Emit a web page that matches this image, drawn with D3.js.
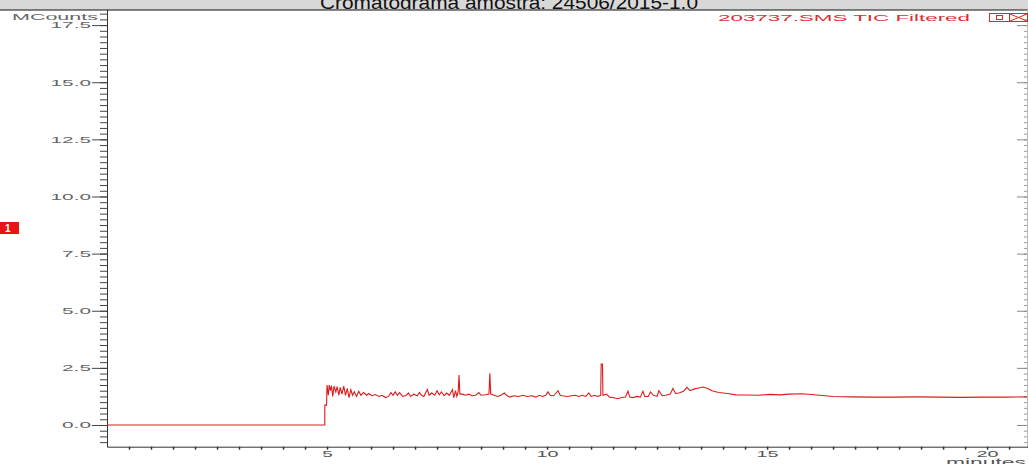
<!DOCTYPE html>
<html>
<head>
<meta charset="utf-8">
<script src="https://cdn.jsdelivr.net/npm/d3@7"></script>
<style>
  body { margin: 0; background: #fff; }
  svg text { font-family: "Liberation Sans", Arial, sans-serif; }
</style>
</head>
<body>
<svg id="canvas" width="1028" height="464"></svg>
<script>
var title = "Cromatograma amostra: 24506/2015-1.0";
var traceName = "203737.SMS TIC Filtered";
var yLabel = "MCounts";
var xLabel = "minutes";
var yMajor = [0, 2.5, 5, 7.5, 10, 12.5, 15, 17.5];
var xMajor = [5, 10, 15, 20];

// retention time (minutes)
var times = [0, 4.95, 4.95, 4.99, 5.0, 5.03, 5.05, 5.08, 5.1, 5.13, 5.16, 5.2, 5.23, 5.27, 5.3, 5.34, 5.38, 5.42, 5.46, 5.5,
	5.54, 5.58, 5.62, 5.67, 5.72, 5.77, 5.83, 5.9, 5.95, 6.02, 6.1, 6.18, 6.25, 6.33, 6.4, 6.45, 6.5, 6.55, 6.6, 6.65,
	6.72, 6.8, 6.85, 6.9, 6.97, 7.05, 7.1, 7.15, 7.2, 7.28, 7.32, 7.38, 7.45, 7.5, 7.55, 7.6, 7.66, 7.72, 7.78, 7.85,
	7.88, 7.92, 7.95, 7.98, 8.0, 8.02, 8.08, 8.15, 8.22, 8.3, 8.38, 8.45, 8.5, 8.6, 8.68, 8.7, 8.72, 8.8, 8.88, 8.95,
	9.03, 9.08, 9.15, 9.25, 9.35, 9.45, 9.55, 9.65, 9.75, 9.82, 9.9, 9.97, 10.02, 10.07, 10.15, 10.25, 10.3, 10.35, 10.45, 10.55,
	10.65, 10.72, 10.8, 10.88, 10.95, 11.0, 11.08, 11.15, 11.22, 11.23, 11.26, 11.27, 11.35, 11.42, 11.5, 11.6, 11.7, 11.78, 11.84, 11.88,
	11.95, 12.05, 12.12, 12.18, 12.22, 12.3, 12.35, 12.42, 12.5, 12.54, 12.62, 12.7, 12.8, 12.86, 12.92, 13.0, 13.1, 13.18, 13.25, 13.35,
	13.45, 13.55, 13.65, 13.75, 13.9, 14.1, 14.3, 14.55, 14.8, 15.07, 15.3, 15.5, 15.8, 16.2, 16.5, 16.9, 17.4, 17.9, 18.4, 18.9,
	19.4, 19.9, 20.4, 20.93];
// intensity (MCounts)
var counts = [0, 0, 0.87, 0.87, 1.75, 1.3, 1.75, 1.5, 1.72, 1.25, 1.7, 1.45, 1.68, 1.3, 1.65, 1.35, 1.7, 1.3, 1.6, 1.2,
	1.55, 1.3, 1.45, 1.25, 1.48, 1.3, 1.42, 1.3, 1.38, 1.28, 1.33, 1.25, 1.3, 1.2, 1.25, 1.42, 1.3, 1.45, 1.3, 1.42,
	1.25, 1.3, 1.4, 1.25, 1.35, 1.28, 1.42, 1.3, 1.25, 1.55, 1.3, 1.4, 1.3, 1.5, 1.32, 1.45, 1.28, 1.4, 1.3, 1.55,
	1.2, 1.5, 1.25, 1.45, 2.19, 1.35, 1.35, 1.3, 1.35, 1.28, 1.3, 1.42, 1.3, 1.32, 1.35, 2.26, 1.35, 1.3, 1.25, 1.3,
	1.4, 1.3, 1.22, 1.28, 1.25, 1.3, 1.25, 1.28, 1.22, 1.3, 1.25, 1.3, 1.45, 1.3, 1.28, 1.5, 1.3, 1.28, 1.25, 1.28,
	1.3, 1.25, 1.3, 1.25, 1.4, 1.25, 1.3, 1.25, 1.3, 2.67, 2.67, 1.3, 1.35, 1.22, 1.2, 1.15, 1.2, 1.22, 1.48, 1.22,
	1.2, 1.25, 1.22, 1.48, 1.25, 1.25, 1.45, 1.3, 1.25, 1.5, 1.28, 1.3, 1.35, 1.6, 1.38, 1.4, 1.48, 1.65, 1.5, 1.58,
	1.62, 1.66, 1.6, 1.5, 1.42, 1.38, 1.32, 1.31, 1.3, 1.34, 1.32, 1.35, 1.37, 1.3, 1.25, 1.23, 1.22, 1.22, 1.23, 1.22,
	1.21, 1.22, 1.22, 1.23];

var svg = d3.select("#canvas");

var x = d3.scaleLinear().domain([0, 20.93]).range([107, 1028]);
var y = d3.scaleLinear().domain([-0.95, 18.2]).range([446.7, 9.1]);

// header band
svg.append("rect").attr("x", 0).attr("y", 0).attr("width", 1028).attr("height", 10).attr("fill", "#d8d8d8");
svg.append("clipPath").attr("id", "hdr").append("rect").attr("x", 0).attr("y", 0).attr("width", 1028).attr("height", 9.5);
svg.append("text")
	.attr("clip-path", "url(#hdr)")
	.attr("x", 320).attr("y", 8.5)
	.attr("textLength", 378).attr("lengthAdjust", "spacingAndGlyphs")
	.attr("font-size", 18).attr("fill", "#111")
	.text(title);
svg.append("line").attr("x1", 0).attr("x2", 1028).attr("y1", 10).attr("y2", 10).attr("stroke", "#111");

function labelLength(s) {
	var n = 0;
	for (var c of s) n += (c == ".") ? 7 : 11.5;
	return n - 1;
}

// left axis, minor then major
svg.append("g").attr("transform", "translate(107,0)")
	.call(d3.axisLeft(y).tickValues(d3.range(-0.75, 18.1, 0.25)).tickSize(7).tickSizeOuter(0).tickFormat(""))
	.call(g => g.selectAll("line").attr("stroke", "#444"))
	.call(g => g.select(".domain").attr("stroke", "#333"));

svg.append("g").attr("transform", "translate(107,0)")
	.call(d3.axisLeft(y).tickValues(yMajor).tickSize(15).tickPadding(1).tickSizeOuter(0).tickFormat(d3.format(".1f")))
	.call(g => g.select(".domain").remove())
	.call(g => g.selectAll("line").attr("stroke", "#444"))
	.call(g => g.selectAll("text")
		.attr("font-family", "Liberation Sans, Arial, sans-serif")
		.attr("font-size", 9).attr("fill", "#666")
		.attr("textLength", function(d) { return labelLength(d3.format(".1f")(d)); })
		.attr("lengthAdjust", "spacingAndGlyphs"));

// right axis (ticks only)
svg.append("g").attr("transform", "translate(1027,0)")
	.call(d3.axisRight(y).tickValues(d3.range(-0.75, 18.1, 0.25)).tickSize(-3).tickSizeOuter(0).tickFormat(""))
	.call(g => g.selectAll("line").attr("stroke", "#999"))
	.call(g => g.select(".domain").attr("stroke", "#bbb"));
svg.append("g").attr("transform", "translate(1027,0)")
	.call(d3.axisRight(y).tickValues(yMajor).tickSize(-10).tickSizeOuter(0).tickFormat(""))
	.call(g => g.select(".domain").remove())
	.call(g => g.selectAll("line").attr("stroke", "#888"));

// bottom axis
svg.append("g").attr("transform", "translate(0,446.7)")
	.call(d3.axisBottom(x).tickValues(d3.range(0.5, 20.9, 0.5)).tickSize(3).tickSizeOuter(0).tickFormat(""))
	.call(g => g.selectAll("line").attr("stroke", "#333").attr("stroke-width", 1.5))
	.call(g => g.select(".domain").attr("stroke", "#333"));
svg.append("g").attr("transform", "translate(0,446.7)")
	.call(d3.axisBottom(x).tickValues(xMajor).tickSize(0).tickFormat(d3.format("d")))
	.call(g => g.select(".domain").remove())
	.call(g => g.selectAll("text")
		.attr("y", 10.5).attr("dy", null)
		.attr("font-family", "Liberation Sans, Arial, sans-serif")
		.attr("font-size", 9).attr("fill", "#555")
		.attr("textLength", function(d) { return labelLength(String(d)); })
		.attr("lengthAdjust", "spacingAndGlyphs"));

svg.append("text").attr("x", 12).attr("y", 19.5)
	.attr("textLength", 86).attr("lengthAdjust", "spacingAndGlyphs")
	.attr("font-size", 9).attr("fill", "#666").text(yLabel);
svg.append("text").attr("x", 946).attr("y", 465.5)
	.attr("textLength", 80).attr("lengthAdjust", "spacingAndGlyphs")
	.attr("font-size", 11.5).attr("fill", "#555").text(xLabel);

// trace
svg.append("clipPath").attr("id", "plot").append("rect")
	.attr("x", 107).attr("y", 11).attr("width", 920).attr("height", 436);
var line = d3.line()
	.x(function(d, i) { return x(times[i]); })
	.y(function(d) { return y(d); });
svg.append("path")
	.attr("clip-path", "url(#plot)")
	.attr("d", line(counts))
	.attr("fill", "none").attr("stroke", "#dc1c1c").attr("stroke-width", 1.1);

// trace label and window icons
svg.append("text").attr("x", 718).attr("y", 21)
	.attr("textLength", 252).attr("lengthAdjust", "spacingAndGlyphs")
	.attr("font-size", 9.5).attr("fill", "#d83030").text(traceName);
svg.append("rect").attr("x", 989.5).attr("y", 13.5).attr("width", 20).attr("height", 8)
	.attr("fill", "none").attr("stroke", "#d42a2a");
svg.append("rect").attr("x", 996.5).attr("y", 15.5).attr("width", 6).attr("height", 4)
	.attr("fill", "none").attr("stroke", "#d42a2a");
svg.append("rect").attr("x", 1009.5).attr("y", 13.5).attr("width", 18).attr("height", 8)
	.attr("fill", "none").attr("stroke", "#d42a2a");
svg.append("path").attr("d", "M1010,14L1027,21M1010,21L1027,14")
	.attr("stroke", "#d42a2a").attr("fill", "none");

// peak marker
svg.append("rect").attr("x", 0).attr("y", 222).attr("width", 19).attr("height", 12).attr("fill", "#e81515");
svg.append("text").attr("x", 5).attr("y", 231.5).attr("font-size", 10).attr("font-weight", "bold").attr("fill", "#fff").text("1");
</script>
</body>
</html>
